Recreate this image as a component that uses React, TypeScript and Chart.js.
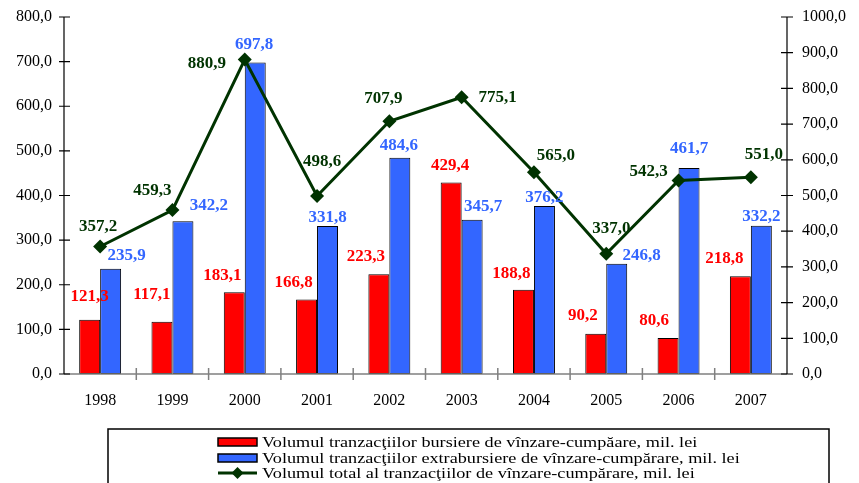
import React, { useEffect, useRef } from "react";
import { Chart, registerables } from "chart.js";

Chart.register(...registerables);

const years = ["1998", "1999", "2000", "2001", "2002", "2003", "2004", "2005", "2006", "2007"];
const bursiere = [121.3, 117.1, 183.1, 166.8, 223.3, 429.4, 188.8, 90.2, 80.6, 218.8];
const extrabursiere = [235.9, 342.2, 697.8, 331.8, 484.6, 345.7, 376.2, 246.8, 461.7, 332.2];
const total = [357.2, 459.3, 880.9, 498.6, 707.9, 775.1, 565.0, 337.0, 542.3, 551.0];

const labelBursiere = "Volumul tranzacţiilor bursiere de vînzare-cumpăare, mil. lei";
const labelExtra = "Volumul tranzacţiilor extrabursiere de vînzare-cumpărare, mil. lei";
const labelTotal = "Volumul total al tranzacţiilor de vînzare-cumpărare, mil. lei";

// value-label nudges (px, relative to the mark the library placed)
const redLabelNudge = [[0, -23], [-10, -27], [-12, -17], [-13, -17], [-13, -18], [-1, -17], [-12, -16], [-13, -18], [-14, -17], [-16, -18]];
const blueLabelNudge = [[16, -13], [26, -16], [-1, -18], [0, -8], [-1, -12], [11, -13], [0, -9], [25, -8], [0, -19], [0, -9]];
const greenLabelNudge = [[-2, -20], [-20, -19], [-38, 4], [5, -34], [-6, -23], [36, 0], [22, -17], [5, -25], [-30, -9], [13, -23]];

const RED = "#FF0000";
const BLUE = "#3366FF";
const GREEN = "#003300";
const SERIF = '"Liberation Serif", "Times New Roman", serif';

const fmt = (v: number) => v.toFixed(1).replace(".", ",");

const axesPlugin = {
  id: "axesPlugin",
  afterDraw(chart: any) {
    const ctx = chart.ctx;
    const ca = chart.chartArea;
    const y = chart.scales.y;
    const y1 = chart.scales.y1;
    ctx.save();
    // bottom axis (gray)
    ctx.strokeStyle = "#808080";
    ctx.lineWidth = 1.5;
    ctx.beginPath();
    ctx.moveTo(ca.left, ca.bottom);
    ctx.lineTo(ca.right, ca.bottom);
    const n = years.length;
    const w = (ca.right - ca.left) / n;
    for (let i = 1; i < n; i++) {
      const xx = ca.left + w * i;
      ctx.moveTo(xx, ca.bottom - 6);
      ctx.lineTo(xx, ca.bottom + 6);
    }
    ctx.stroke();
    // left axis
    ctx.strokeStyle = "#000";
    ctx.lineWidth = 1.2;
    ctx.beginPath();
    ctx.moveTo(ca.left, ca.top);
    ctx.lineTo(ca.left, ca.bottom);
    y.ticks.forEach((t: any) => {
      const yy = y.getPixelForValue(t.value);
      ctx.moveTo(ca.left - 5, yy);
      ctx.lineTo(ca.left + 6, yy);
    });
    // right axis
    ctx.moveTo(ca.right, ca.top);
    ctx.lineTo(ca.right, ca.bottom);
    y1.ticks.forEach((t: any) => {
      const yy = y1.getPixelForValue(t.value);
      ctx.moveTo(ca.right - 6, yy);
      ctx.lineTo(ca.right + 6, yy);
    });
    ctx.stroke();

    // legend
    const lx = 108;
    const ly = 429;
    ctx.lineWidth = 1.5;
    ctx.strokeStyle = "#000";
    ctx.strokeRect(lx, ly, 829 - lx, chart.height - ly + 5);
    const items = [
      { type: "bar", color: RED, text: labelBursiere, cy: 442 },
      { type: "bar", color: BLUE, text: labelExtra, cy: 458 },
      { type: "line", color: GREEN, text: labelTotal, cy: 473 },
    ];
    const sx = 218;
    const ex = 257;
    items.forEach((it) => {
      if (it.type === "bar") {
        ctx.fillStyle = it.color;
        ctx.fillRect(sx, it.cy - 4, ex - sx, 8);
        ctx.lineWidth = 1.5;
        ctx.strokeStyle = "#000";
        ctx.strokeRect(sx, it.cy - 4, ex - sx, 8);
      } else {
        ctx.strokeStyle = it.color;
        ctx.lineWidth = 3;
        ctx.beginPath();
        ctx.moveTo(sx, it.cy);
        ctx.lineTo(ex, it.cy);
        ctx.stroke();
        ctx.fillStyle = it.color;
        const mx = (sx + ex) / 2;
        ctx.beginPath();
        ctx.moveTo(mx, it.cy - 6);
        ctx.lineTo(mx + 6, it.cy);
        ctx.lineTo(mx, it.cy + 6);
        ctx.lineTo(mx - 6, it.cy);
        ctx.closePath();
        ctx.fill();
      }
      ctx.save();
      ctx.fillStyle = "#000";
      ctx.font = "14px " + SERIF;
      ctx.textAlign = "left";
      ctx.textBaseline = "middle";
      ctx.translate(ex + 5, it.cy + 1);
      ctx.scale(1.3, 1);
      ctx.fillText(it.text, 0, 0);
      ctx.restore();
    });
    ctx.restore();
  },
  afterDatasetsDraw(chart: any) {
    const ctx = chart.ctx;
    ctx.save();
    ctx.font = "bold 17px " + SERIF;
    ctx.textAlign = "center";
    ctx.textBaseline = "middle";
    const groups = [
      { meta: chart.getDatasetMeta(0), vals: bursiere, nudge: redLabelNudge, color: RED },
      { meta: chart.getDatasetMeta(1), vals: extrabursiere, nudge: blueLabelNudge, color: BLUE },
      { meta: chart.getDatasetMeta(2), vals: total, nudge: greenLabelNudge, color: GREEN },
    ];
    groups.forEach((g) => {
      ctx.fillStyle = g.color;
      g.meta.data.forEach((el: any, i: number) => {
        ctx.fillText(fmt(g.vals[i]), el.x + g.nudge[i][0], el.y + g.nudge[i][1]);
      });
    });
    ctx.restore();
  },
};

export default function App() {
  const ref = useRef<HTMLCanvasElement>(null);
  useEffect(() => {
    if (!ref.current) return;
    const tickFont = { family: SERIF, size: 16 };
    const fitVertical = (width: number) => (s: any) => {
      s.width = width;
      s.paddingTop = 0;
      s.paddingBottom = 0;
    };
    const chart = new Chart(ref.current, {
      type: "bar",
      data: {
        labels: years,
        datasets: [
          {
            type: "bar",
            label: labelBursiere,
            data: bursiere,
            backgroundColor: RED,
            borderColor: "#000",
            borderWidth: 1,
            borderSkipped: false,
            categoryPercentage: 0.58,
            barPercentage: 1,
            yAxisID: "y",
            order: 1,
          } as any,
          {
            type: "bar",
            label: labelExtra,
            data: extrabursiere,
            backgroundColor: BLUE,
            borderColor: "#000",
            borderWidth: 1,
            borderSkipped: false,
            categoryPercentage: 0.58,
            barPercentage: 1,
            yAxisID: "y",
            order: 2,
          } as any,
          {
            type: "line",
            label: labelTotal,
            data: total,
            borderColor: GREEN,
            backgroundColor: GREEN,
            borderWidth: 3,
            pointStyle: "rectRot",
            pointRadius: 7,
            pointBorderWidth: 0,
            pointBackgroundColor: GREEN,
            tension: 0,
            yAxisID: "y1",
            order: 0,
          } as any,
        ],
      },
      options: {
        responsive: false,
        animation: false,
        devicePixelRatio: 1,
        layout: { autoPadding: false, padding: { top: 17, left: 0, right: 0, bottom: 0 } },
        plugins: {
          legend: { display: false },
          tooltip: { enabled: false },
        },
        scales: {
          x: {
            grid: { display: false, drawTicks: false },
            border: { display: false },
            ticks: { font: tickFont, color: "#000", padding: 17, maxRotation: 0 },
            afterFit: (s: any) => {
              s.height = 109;
              s.paddingLeft = 0;
              s.paddingRight = 0;
            },
          },
          y: {
            position: "left",
            min: 0,
            max: 800,
            grid: { display: false, drawTicks: false },
            border: { display: false },
            ticks: {
              stepSize: 100,
              font: tickFont,
              color: "#000",
              padding: 12,
              callback: (v: any) => fmt(Number(v)),
            },
            afterFit: fitVertical(64),
          },
          y1: {
            position: "right",
            min: 0,
            max: 1000,
            grid: { display: false, drawTicks: false },
            border: { display: false },
            ticks: {
              stepSize: 100,
              font: tickFont,
              color: "#000",
              padding: 15,
              callback: (v: any) => fmt(Number(v)),
            },
            afterFit: fitVertical(72),
          },
        },
      } as any,
      plugins: [axesPlugin],
    });
    return () => chart.destroy();
  }, []);
  return (
    <div style={{ position: "fixed", left: 0, top: 0, width: 859, height: 483, background: "#fff" }}>
      <canvas ref={ref} width={859} height={483} style={{ width: 859, height: 483 }} />
    </div>
  );
}
